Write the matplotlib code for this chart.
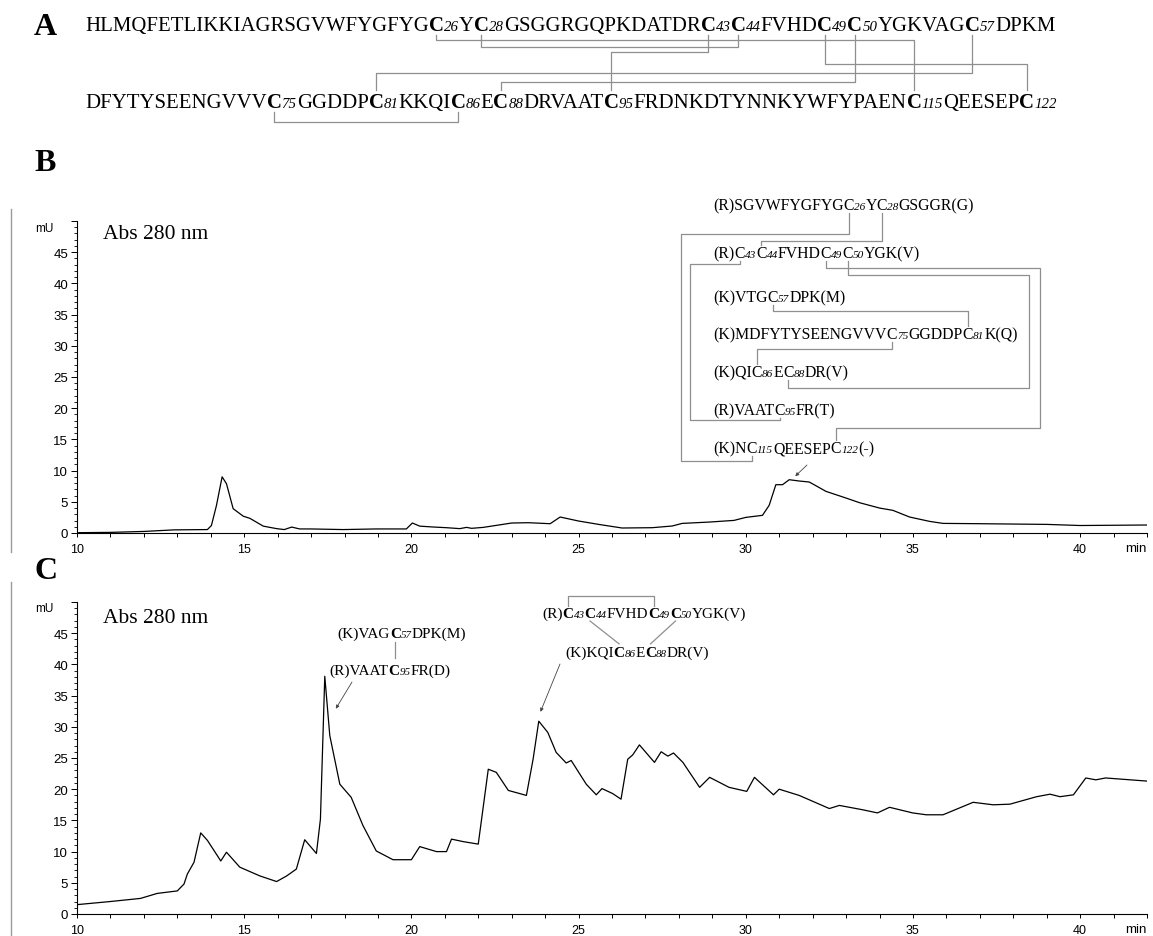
import re

import matplotlib
matplotlib.use("Agg")
import matplotlib.pyplot as plt
from matplotlib.lines import Line2D
from matplotlib.ticker import MultipleLocator

W, H = 1153, 937
SERIF = "Liberation Serif"
SANS = "Liberation Sans"
BOND = "#8f8f8f"

# panel B chromatogram (min, mU)
time_b = [10, 11, 12, 12.9, 13.9, 14.02, 14.17, 14.34, 14.47, 14.67, 14.97, 15.17, 15.57,
          15.97, 16.2, 16.42, 16.66, 17.0, 17.96, 18.95, 19.85, 20.03, 20.25, 20.65, 21.05,
          21.45, 21.65, 21.8, 22.15, 23.0, 23.5, 24.15, 24.45, 25.0, 25.6, 26.3, 27.2, 27.8,
          28.1, 28.9, 29.65, 30.0, 30.5, 30.7, 30.9, 31.1, 31.3, 31.6, 31.9, 32.4, 33.0,
          33.4, 34.0, 34.4, 34.9, 35.5, 35.9, 37.0, 39.0, 40.0, 42.0]
abs_b = [0.05, 0.1, 0.25, 0.5, 0.55, 1.2, 4.4, 9.0, 7.9, 3.9, 2.7, 2.35, 1.1,
         0.7, 0.55, 0.95, 0.65, 0.65, 0.55, 0.65, 0.65, 1.6, 1.1, 0.96, 0.85,
         0.7, 0.9, 0.75, 0.9, 1.6, 1.65, 1.49, 2.56, 1.92, 1.38, 0.8, 0.85, 1.12,
         1.54, 1.75, 2.02, 2.5, 2.83, 4.43, 7.74, 7.74, 8.54, 8.33, 8.17, 6.67, 5.6,
         4.86, 4.0, 3.63, 2.56, 1.86, 1.54, 1.49, 1.38, 1.2, 1.28]

# panel C chromatogram (min, mU)
time_c = [10.0, 11.0, 11.9, 12.4, 13.0, 13.2, 13.3, 13.5, 13.7, 13.9, 14.3, 14.47, 14.87,
          15.47, 15.97, 16.27, 16.56, 16.81, 17.16, 17.28, 17.41, 17.56, 17.86, 18.2, 18.55,
          18.95, 19.45, 20.0, 20.25, 20.75, 21.05, 21.2, 21.55, 22.0, 22.1, 22.3, 22.54,
          22.9, 23.24, 23.44, 23.64, 23.81, 24.08, 24.33, 24.63, 24.78, 25.23, 25.53, 25.7,
          26.02, 26.27, 26.47, 26.62, 26.82, 27.27, 27.47, 27.67, 27.84, 28.12, 28.62,
          28.92, 29.5, 30.03, 30.26, 30.83, 31.0, 31.6, 32.5, 32.8, 33.5, 33.94, 34.3,
          34.99, 35.4, 35.9, 36.8, 37.4, 37.9, 38.7, 39.1, 39.4, 39.8, 40.17, 40.47,
          40.76, 42.0]
abs_c = [1.5, 2.0, 2.5, 3.3, 3.7, 4.8, 6.4, 8.3, 13.0, 11.8, 8.5, 9.9, 7.5,
         6.1, 5.2, 6.1, 7.2, 11.9, 9.7, 15.2, 38.1, 28.6, 20.8, 18.7, 14.2,
         10.1, 8.7, 8.7, 10.8, 10.0, 10.0, 12.0, 11.6, 11.2, 15.2, 23.2, 22.7,
         19.8, 19.3, 19.0, 24.8, 30.9, 29.1, 25.9, 24.2, 24.6, 20.8, 19.1, 20.1,
         19.3, 18.4, 24.8, 25.5, 27.1, 24.3, 26.0, 25.3, 25.8, 24.3, 20.3,
         21.9, 20.3, 19.65, 21.9, 19.1, 20.0, 19.0, 16.9, 17.4, 16.7, 16.2, 17.1,
         16.2, 15.9, 15.9, 17.9, 17.5, 17.6, 18.8, 19.2, 18.8, 19.1, 21.8, 21.5,
         21.8, 21.3]

# sequence; "C_nn" marks a numbered cysteine
seq_line1 = "HLMQFETLIKKIAGRSGVWFYGFYGC_26YC_28GSGGRGQPKDATDRC_43C_44FVHDC_49C_50YGKVAGC_57DPKM"
seq_line2 = "DFYTYSEENGVVVC_75GGDDPC_81KKQIC_86EC_88DRVAATC_95FRDNKDTYNNKYWFYPAENC_115QEESEPC_122"
disulfides = [(26, 115), (28, 44), (43, 95), (49, 122), (57, 81), (50, 88), (75, 86)]

peptides_b = ["(R)SGVWFYGFYGC_26YC_28GSGGR(G)", "(R)C_43C_44FVHDC_49C_50YGK(V)",
              "(K)VTGC_57DPK(M)", "(K)MDFYTYSEENGVVVC_75GGDDPC_81K(Q)",
              "(K)QIC_86EC_88DR(V)", "(R)VAATC_95FR(T)", "(K)NC_115QEESEPC_122(-)"]
peptides_c_left = ["(K)VAGC_57DPK(M)", "(R)VAATC_95FR(D)"]
peptides_c_right = ["(R)C_43C_44FVHDC_49C_50YGK(V)", "(K)KQIC_86EC_88DR(V)"]

# peaks the arrows point at (min, mU)
arrow_b = (31.48, 9.1)
arrow_c1 = (17.74, 32.9)
arrow_c2 = (23.86, 32.4)

fig = plt.figure(figsize=(W / 100, H / 100), dpi=100)
renderer = fig.canvas.get_renderer()


def fpos(x, y):
    return x / W, 1 - y / H


def tokens(text, bold_c):
    out = []
    for tok in re.split(r"(C_\d+)", text):
        if not tok:
            continue
        if tok.startswith("C_"):
            out.append(("C", "bold" if bold_c else "normal", "normal", 1.0, int(tok[2:])))
            out.append((tok[2:], "normal", "italic", 0.72, None))
        else:
            out.append((tok, "normal", "normal", 1.0, None))
    return out


def rich_text(x, y, text, size, bold_c=True, ha="left"):
    pieces, anchors = [], {}
    cx = x
    for s, weight, style, scale, cys in tokens(text, bold_c):
        t = fig.text(*fpos(cx, y), s, fontsize=size * scale, fontweight=weight,
                     fontstyle=style, family=SERIF, va="baseline", ha="left")
        w = t.get_window_extent(renderer).width
        if cys is not None:
            anchors[cys] = cx + w / 2
        pieces.append((t, cx))
        cx += w
    width = cx - x
    shift = {"left": 0.0, "center": -width / 2, "right": -width}[ha]
    if shift:
        for t, px in pieces:
            t.set_position(fpos(px + shift, y))
        anchors = {k: v + shift for k, v in anchors.items()}
    return anchors, width, [t for t, _ in pieces]


def fit_size(text, width, bold_c=True):
    _, w, arts = rich_text(0, 0, text, 10, bold_c)
    for a in arts:
        a.remove()
    return 10 * width / w


def polyline(pts, color=BOND, lw=0.9):
    xs = [p[0] / W for p in pts]
    ys = [1 - p[1] / H for p in pts]
    fig.add_artist(Line2D(xs, ys, color=color, lw=lw, transform=fig.transFigure))


# ---- panel A: sequence with disulfide map
size_a = fit_size(seq_line1, 968)
a1, _, _ = rich_text(85, 31, seq_line1, size_a)
a2, _, _ = rich_text(85, 108, seq_line2, size_a)
levels_a = {(26, 115): 41, (28, 44): 48, (43, 95): 53, (49, 122): 65,
            (57, 81): 74, (50, 88): 83, (75, 86): 123}
for ca, cb in disulfides:
    lvl = levels_a[(ca, cb)]
    pts = []
    for c in (ca, cb):
        if c in a1:
            pts.append((a1[c], 36))
        else:
            pts.append((a2[c], 91 if lvl < 108 else 113))
    polyline([pts[0], (pts[0][0], lvl), (pts[1][0], lvl), pts[1]])


# ---- axes
def style_axes(ax, t, v):
    ax.plot(t, v, color="black", lw=0.9)
    ax.set_xlim(10, 42)
    ax.set_ylim(0, 50)
    for side in ("top", "right"):
        ax.spines[side].set_visible(False)
    for side in ("left", "bottom"):
        ax.spines[side].set_linewidth(0.8)
    ax.xaxis.set_minor_locator(MultipleLocator(1))
    ax.yaxis.set_minor_locator(MultipleLocator(1))
    ax.set_xticks(range(10, 41, 5))
    ax.set_yticks(range(0, 51, 5))
    ax.set_yticklabels([str(i) for i in range(0, 50, 5)] + [""])
    ax.tick_params(axis="x", which="both", direction="out", length=3, width=0.7,
                   pad=4, labelsize=9)
    ax.tick_params(axis="y", which="major", direction="out", length=4.3, width=0.7,
                   pad=2, labelsize=9.5)
    ax.tick_params(axis="y", which="minor", direction="out", length=2.2, width=0.6)
    for lab in ax.get_xticklabels() + ax.get_yticklabels():
        lab.set_family(SANS)


ax_b = fig.add_axes([77 / W, 1 - 534 / H, (1147 - 77) / W, (534 - 222) / H])
ax_c = fig.add_axes([77 / W, 1 - 915 / H, (1147 - 77) / W, (915 - 603) / H])
style_axes(ax_b, time_b, abs_b)
style_axes(ax_c, time_c, abs_c)

for y_top, y_bot, y_mu, y_abs, y_min in [(210, 553, 229, 239, 552), (583, 937, 609, 623, 933)]:
    polyline([(11, y_top), (11, y_bot)], color="#9a9a9a", lw=1.0)
    fig.text(*fpos(44, y_mu), "mU", family=SANS, fontsize=8.5, ha="center", va="center")
    fig.text(*fpos(103, y_abs), "Abs 280 nm", family=SERIF, fontsize=15.5, va="baseline")
    fig.text(*fpos(1147, y_min), "min", family=SANS, fontsize=9.5, ha="right", va="baseline")

for lab, yb in [("A", 35), ("B", 171), ("C", 579)]:
    fig.text(*fpos(34, yb), lab, family=SERIF, fontsize=23, fontweight="bold", va="baseline")

# ---- panel B: peptide map
size_b = fit_size(peptides_b[3], 304, bold_c=False)
base_b = [210, 258, 302, 339, 377, 415, 453]
cap_b = size_b * 100 / 72 * 0.66
pos_b = {}
for row, pep in enumerate(peptides_b):
    anc, _, _ = rich_text(713, base_b[row], pep, size_b, bold_c=False)
    for c, x in anc.items():
        pos_b[c] = (row, x)


def top_b(row):
    return base_b[row] - cap_b - 2


def bot_b(row):
    return base_b[row] + 4


routes_b = {(26, 115): (235, 681, 462), (28, 44): (242, None, None),
            (43, 95): (265, 690, 421), (49, 122): (269, 1040, 429),
            (50, 88): (276, 1029, 389), (57, 81): (312, None, None),
            (75, 86): (350, None, None)}
for (ca, cb), (l1, side, l2) in routes_b.items():
    ra, xa = pos_b[ca]
    rb, xb = pos_b[cb]
    pts = [(xa, bot_b(ra)), (xa, l1)]
    last = l1
    if side is not None:
        pts += [(side, l1), (side, l2)]
        last = l2
    end_y = bot_b(rb) if last > base_b[rb] else top_b(rb)
    pts += [(xb, last), (xb, end_y)]
    polyline(pts)

arrow_props = dict(arrowstyle="-|>", color="#444444", lw=0.6, mutation_scale=5,
                   shrinkA=0, shrinkB=0)
ax_b.annotate("", xy=arrow_b, xytext=fpos(807, 466), textcoords="figure fraction",
              arrowprops=arrow_props)

# ---- panel C: peptide labels
size_c = fit_size(peptides_c_right[0], 205)
cap_c = size_c * 100 / 72 * 0.66
cl1, _, _ = rich_text(402, 638, peptides_c_left[0], size_c, ha="center")
cl2, _, _ = rich_text(390, 675, peptides_c_left[1], size_c, ha="center")
polyline([(cl1[57], 643), (cl1[57], 659)])
cr1, _, _ = rich_text(542, 618, peptides_c_right[0], size_c)
cr2, _, _ = rich_text(565, 657, peptides_c_right[1], size_c)
polyline([(cr1[43], 618 - cap_c - 1), (cr1[43], 597), (cr1[49], 597), (cr1[49], 618 - cap_c - 1)])
polyline([(cr1[44], 622), (cr2[86], 657 - cap_c - 2)])
polyline([(cr1[50], 622), (cr2[88], 657 - cap_c - 2)])

ax_c.annotate("", xy=arrow_c1, xytext=fpos(352, 683), textcoords="figure fraction",
              arrowprops=arrow_props)
ax_c.annotate("", xy=arrow_c2, xytext=fpos(560, 665), textcoords="figure fraction",
              arrowprops=arrow_props)

fig.savefig("out.png", dpi=100)
